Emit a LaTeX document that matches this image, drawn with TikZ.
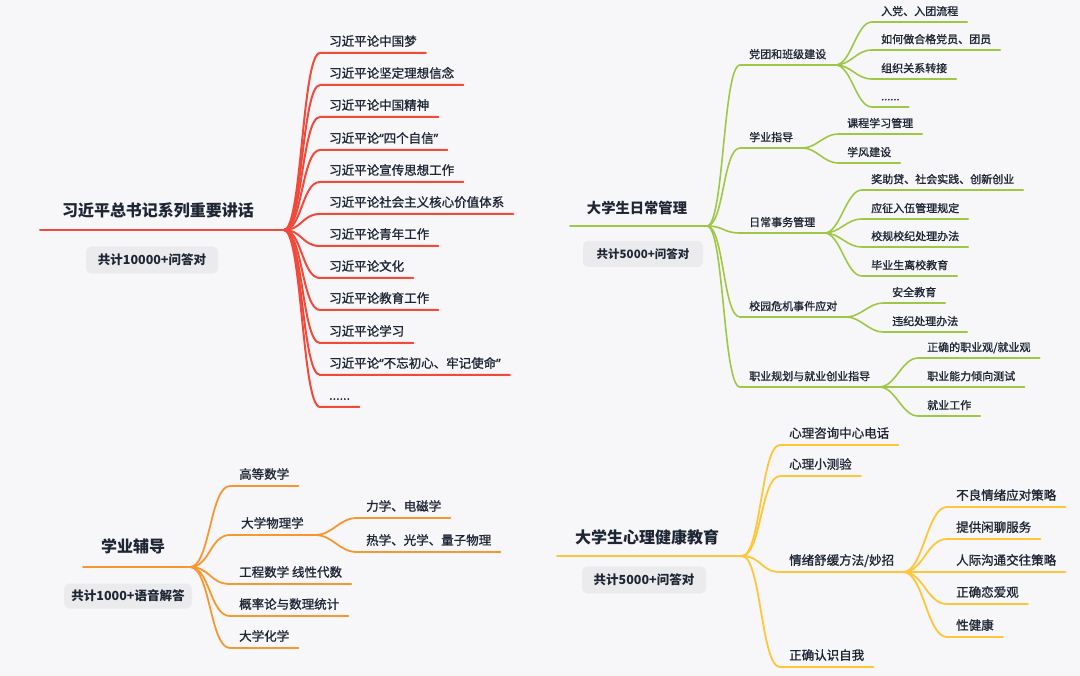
\documentclass[tikz,border=0pt]{standalone}
\usepackage{fontspec}
\setmainfont{Noto Sans CJK SC}
\newfontfamily\leaffont[FakeBold=1.2]{Noto Sans CJK SC}
\newfontfamily\quotefont[FakeBold=1.2]{Noto Sans}
\usetikzlibrary{calc}

\definecolor{bgcol}{RGB}{247,247,250}
\definecolor{inkcol}{RGB}{30,38,52}
\definecolor{boxcol}{RGB}{235,235,237}
\definecolor{redcol}{RGB}{240,74,58}
\definecolor{greencol}{RGB}{158,200,68}
\definecolor{orangecol}{RGB}{248,150,48}
\definecolor{yellowcol}{RGB}{255,198,58}

\tikzset{
  leaf/.style={anchor=south west, inner xsep=9pt, inner ysep=4pt, text height=10pt, text depth=3pt,
    text=inkcol, font=\leaffont\fontsize{12.5}{15}\selectfont},
  smallleaf/.style={leaf, inner ysep=3.5pt, text height=9pt, font=\leaffont\fontsize{11}{13}\selectfont},
  title/.style={text=inkcol, font=\bfseries\fontsize{16}{19}\selectfont},
  countbox/.style={fill=boxcol, rounded corners=5pt, text=inkcol, inner sep=0pt,
    font=\bfseries\fontsize{12.5}{15}\selectfont},
  redline/.style={draw=redcol, line width=2pt, line cap=round},
  greenline/.style={draw=greencol, line width=1.6pt, line cap=round},
  orangeline/.style={draw=orangecol, line width=1.8pt, line cap=round},
  yellowline/.style={draw=yellowcol, line width=1.8pt, line cap=round},
}

\begin{document}
\begin{tikzpicture}[x=1pt, y=-1pt]
  \fill[bgcol] (0,0) rectangle (1080,676);

  % red cluster
  \coordinate (rstart) at (40,230);
  \coordinate (rhub) at (284,230);
  \draw[redline] (rstart) -- (rhub);
  \node[title] (rtitle) at (158,210) {习近平总书记系列重要讲话};
  \node[countbox, minimum width=132, minimum height=27] (rcount) at (152,260) {共计10000+问答对};

  \node[leaf] (r1) at (320,53) {习近平论中国梦};
  \node[leaf] (r2) at (320,85) {习近平论坚定理想信念};
  \node[leaf] (r3) at (320,117) {习近平论中国精神};
  \node[leaf] (r4) at (320,150) {习近平论{\quotefont “}四个自信{\quotefont ”}};
  \node[leaf] (r5) at (320,182) {习近平论宣传思想工作};
  \node[leaf] (r6) at (320,214) {习近平论社会主义核心价值体系};
  \node[leaf] (r7) at (320,246) {习近平论青年工作};
  \node[leaf] (r8) at (320,278) {习近平论文化};
  \node[leaf] (r9) at (320,310) {习近平论教育工作};
  \node[leaf] (r10) at (320,343) {习近平论学习};
  \node[leaf] (r11) at (320,375) {习近平论{\quotefont “}不忘初心、牢记使命{\quotefont ”}};
  \node[leaf] (r12) at (320,407) {......};

  \draw[redline] (rhub) .. controls +(18,0) and +(-18,0) .. (r1.south west) -- (r1.south east);
  \draw[redline] (rhub) .. controls +(18,0) and +(-18,0) .. (r2.south west) -- (r2.south east);
  \draw[redline] (rhub) .. controls +(18,0) and +(-18,0) .. (r3.south west) -- (r3.south east);
  \draw[redline] (rhub) .. controls +(18,0) and +(-18,0) .. (r4.south west) -- (r4.south east);
  \draw[redline] (rhub) .. controls +(18,0) and +(-18,0) .. (r5.south west) -- (r5.south east);
  \draw[redline] (rhub) .. controls +(18,0) and +(-18,0) .. (r6.south west) -- (r6.south east);
  \draw[redline] (rhub) .. controls +(18,0) and +(-18,0) .. (r7.south west) -- (r7.south east);
  \draw[redline] (rhub) .. controls +(18,0) and +(-18,0) .. (r8.south west) -- (r8.south east);
  \draw[redline] (rhub) .. controls +(18,0) and +(-18,0) .. (r9.south west) -- (r9.south east);
  \draw[redline] (rhub) .. controls +(18,0) and +(-18,0) .. (r10.south west) -- (r10.south east);
  \draw[redline] (rhub) .. controls +(18,0) and +(-18,0) .. (r11.south west) -- (r11.south east);
  \draw[redline] (rhub) .. controls +(18,0) and +(-18,0) .. (r12.south west) -- (r12.south east);

  % green cluster
  \coordinate (gstart) at (570,226);
  \coordinate (ghub) at (707,226);
  \draw[greenline] (gstart) -- (ghub);
  \node[title, font=\bfseries\fontsize{14.3}{17}\selectfont] (gtitle) at (637,208) {大学生日常管理};
  \node[countbox, minimum width=120, minimum height=26, font=\bfseries\fontsize{11.5}{14}\selectfont] (gcount) at (643,254) {共计5000+问答对};

  \node[smallleaf] (g1) at (740,65) {党团和班级建设};
  \node[smallleaf] (g2) at (740,148) {学业指导};
  \node[smallleaf] (g3) at (740,233) {日常事务管理};
  \node[smallleaf] (g4) at (740,317) {校园危机事件应对};
  \node[smallleaf] (g5) at (740,387) {职业规划与就业创业指导};

  \draw[greenline] (ghub) .. controls +(17,0) and +(-17,0) .. (g1.south west) -- (g1.south east);
  \draw[greenline] (ghub) .. controls +(17,0) and +(-17,0) .. (g2.south west) -- (g2.south east);
  \draw[greenline] (ghub) .. controls +(17,0) and +(-17,0) .. (g3.south west) -- (g3.south east);
  \draw[greenline] (ghub) .. controls +(17,0) and +(-17,0) .. (g4.south west) -- (g4.south east);
  \draw[greenline] (ghub) .. controls +(17,0) and +(-17,0) .. (g5.south west) -- (g5.south east);

  \node[smallleaf] (g11) at (872,22) {入党、入团流程};
  \node[smallleaf] (g12) at (872,50) {如何做合格党员、团员};
  \node[smallleaf] (g13) at (872,79) {组织关系转接};
  \node[smallleaf] (g14) at (872,107) {......};
  \node[smallleaf] (g21) at (838,134) {课程学习管理};
  \node[smallleaf] (g22) at (838,163) {学风建设};
  \node[smallleaf] (g31) at (862,190) {奖助贷、社会实践、创新创业};
  \node[smallleaf] (g32) at (862,219) {应征入伍管理规定};
  \node[smallleaf] (g33) at (862,247) {校规校纪处理办法};
  \node[smallleaf] (g34) at (862,276) {毕业生离校教育};
  \node[smallleaf] (g41) at (883,303) {安全教育};
  \node[smallleaf] (g42) at (883,332) {违纪处理办法};
  \node[smallleaf] (g51) at (918,358) {正确的职业观/就业观};
  \node[smallleaf] (g52) at (918,387) {职业能力倾向测试};
  \node[smallleaf] (g53) at (918,416) {就业工作};

  \draw[greenline] (g1.south east) .. controls +(16,0) and +(-16,0) .. (g11.south west) -- (g11.south east);
  \draw[greenline] (g1.south east) .. controls +(16,0) and +(-16,0) .. (g12.south west) -- (g12.south east);
  \draw[greenline] (g1.south east) .. controls +(16,0) and +(-16,0) .. (g13.south west) -- (g13.south east);
  \draw[greenline] (g1.south east) .. controls +(16,0) and +(-16,0) .. (g14.south west) -- (g14.south east);
  \draw[greenline] (g2.south east) .. controls +(14,0) and +(-14,0) .. (g21.south west) -- (g21.south east);
  \draw[greenline] (g2.south east) .. controls +(14,0) and +(-14,0) .. (g22.south west) -- (g22.south east);
  \draw[greenline] (g3.south east) .. controls +(16,0) and +(-16,0) .. (g31.south west) -- (g31.south east);
  \draw[greenline] (g3.south east) .. controls +(16,0) and +(-16,0) .. (g32.south west) -- (g32.south east);
  \draw[greenline] (g3.south east) .. controls +(16,0) and +(-16,0) .. (g33.south west) -- (g33.south east);
  \draw[greenline] (g3.south east) .. controls +(16,0) and +(-16,0) .. (g34.south west) -- (g34.south east);
  \draw[greenline] (g4.south east) .. controls +(14,0) and +(-14,0) .. (g41.south west) -- (g41.south east);
  \draw[greenline] (g4.south east) .. controls +(14,0) and +(-14,0) .. (g42.south west) -- (g42.south east);
  \draw[greenline] (g5.south east) .. controls +(16,0) and +(-16,0) .. (g51.south west) -- (g51.south east);
  \draw[greenline] (g5.south east) .. controls +(16,0) and +(-16,0) .. (g52.south west) -- (g52.south east);
  \draw[greenline] (g5.south east) .. controls +(16,0) and +(-16,0) .. (g53.south west) -- (g53.south east);

  % orange cluster
  \coordinate (ostart) at (83,567);
  \coordinate (ohub) at (190,567);
  \draw[orangeline] (ostart) -- (ohub);
  \node[title] (otitle) at (133,546) {学业辅导};
  \node[countbox, minimum width=128, minimum height=25] (ocount) at (128,596) {共计1000+语音解答};

  \node[leaf] (o1) at (230,486) {高等数学};
  \node[leaf, inner xsep=11pt] (o2) at (230,535) {大学物理学};
  \node[leaf] (o3) at (230,584) {工程数学 线性代数};
  \node[leaf] (o4) at (230,616) {概率论与数理统计};
  \node[leaf] (o5) at (230,648) {大学化学};

  \draw[orangeline] (ohub) .. controls +(20,0) and +(-20,0) .. (o1.south west) -- (o1.south east);
  \draw[orangeline] (ohub) .. controls +(20,0) and +(-20,0) .. (o2.south west) -- (o2.south east);
  \draw[orangeline] (ohub) .. controls +(20,0) and +(-20,0) .. (o3.south west) -- (o3.south east);
  \draw[orangeline] (ohub) .. controls +(20,0) and +(-20,0) .. (o4.south west) -- (o4.south east);
  \draw[orangeline] (ohub) .. controls +(20,0) and +(-20,0) .. (o5.south west) -- (o5.south east);

  \node[leaf] (o21) at (357,518) {力学、电磁学};
  \node[leaf] (o22) at (357,552) {热学、光学、量子物理};

  \draw[orangeline] (o2.south east) .. controls +(18,0) and +(-18,0) .. (o21.south west) -- (o21.south east);
  \draw[orangeline] (o2.south east) .. controls +(18,0) and +(-18,0) .. (o22.south west) -- (o22.south east);

  % yellow cluster
  \coordinate (ystart) at (557,556);
  \coordinate (yhub) at (742,556);
  \draw[yellowline] (ystart) -- (yhub);
  \node[title] (ytitle) at (647,537) {大学生心理健康教育};
  \node[countbox, minimum width=124, minimum height=27] (ycount) at (644,580) {共计5000+问答对};

  \node[leaf] (y1) at (780,445) {心理咨询中心电话};
  \node[leaf] (y2) at (780,476) {心理小测验};
  \node[leaf] (y3) at (780,572) {情绪舒缓方法/妙招};
  \node[leaf] (y4) at (780,667) {正确认识自我};

  \draw[yellowline] (yhub) .. controls +(19,0) and +(-19,0) .. (y1.south west) -- (y1.south east);
  \draw[yellowline] (yhub) .. controls +(19,0) and +(-19,0) .. (y2.south west) -- (y2.south east);
  \draw[yellowline] (yhub) .. controls +(19,0) and +(-19,0) .. (y3.south west) -- (y3.south east);
  \draw[yellowline] (yhub) .. controls +(19,0) and +(-19,0) .. (y4.south west) -- (y4.south east);

  \node[leaf] (y31) at (947,507) {不良情绪应对策略};
  \node[leaf] (y32) at (947,539) {提供闲聊服务};
  \node[leaf] (y33) at (947,572) {人际沟通交往策略};
  \node[leaf] (y34) at (947,604) {正确恋爱观};
  \node[leaf] (y35) at (947,637) {性健康};

  \draw[yellowline] (y3.south east) .. controls +(20,0) and +(-20,0) .. (y31.south west) -- (y31.south east);
  \draw[yellowline] (y3.south east) .. controls +(20,0) and +(-20,0) .. (y32.south west) -- (y32.south east);
  \draw[yellowline] (y3.south east) .. controls +(20,0) and +(-20,0) .. (y33.south west) -- (y33.south east);
  \draw[yellowline] (y3.south east) .. controls +(20,0) and +(-20,0) .. (y34.south west) -- (y34.south east);
  \draw[yellowline] (y3.south east) .. controls +(20,0) and +(-20,0) .. (y35.south west) -- (y35.south east);
\end{tikzpicture}
\end{document}
